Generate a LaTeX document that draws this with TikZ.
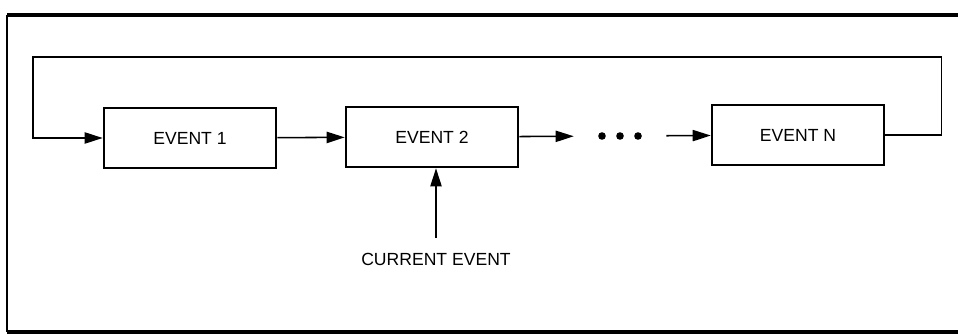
\documentclass[tikz,border=0pt]{standalone}
\usepackage{fontspec}
\setmainfont{Liberation Sans}
\usepackage{tikz}
\usetikzlibrary{arrows.meta,positioning,calc}

\begin{document}
\begin{tikzpicture}[x=0.025cm, y=-0.025cm, font=\fontsize{12.5}{14}\selectfont,
        event/.style={draw, line width=1.8pt, minimum width=4.3cm, minimum height=1.5cm, inner sep=0pt},
        link/.style={line width=1.1pt, -{Triangle[length=0.45cm, width=0.28cm]}}]
    \useasboundingbox (0,0) rectangle (958,334);
    \draw[line width=2.6pt] (7,15) -- (958,15);
    \draw[line width=2.6pt] (7,332) -- (958,332);
    \draw[line width=1.3pt] (7,15) -- (7,332);
    \node[event] (e1) at (190,138) {EVENT 1};
    \node[event] (e2) at (432,137) {EVENT 2};
    \node[minimum width=2.3cm, inner sep=0pt] (dots) at (620,136) {};
    \foreach \dx in {-18,0,18} {
            \fill ($(dots)+(\dx,0)$) circle (3.8);
        }
    \node[event] (eN) at (798,135) {EVENT N};
    \node[outer sep=7pt] (cur) at (436,259) {CURRENT EVENT};
    \coordinate (loopL) at (33,57);
    \draw[link] (e1) -- (e2);
    \draw[link] (e2) -- (dots);
    \draw[link] (dots) -- (eN);
    \draw[link] (cur.north) -- (cur.north |- e2.south);
    \draw[link] (eN.east) -- ++(56,0) |- (loopL) |- (e1.west);
\end{tikzpicture}
\end{document}
